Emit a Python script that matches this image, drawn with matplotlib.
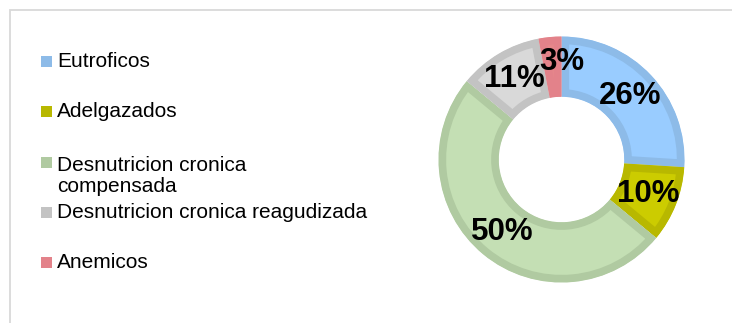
import matplotlib
matplotlib.use('Agg')
import matplotlib.pyplot as plt
from matplotlib.patches import Rectangle
import numpy as np

plt.rcParams['font.family'] = ['Liberation Sans', 'DejaVu Sans']

# Nutritional status breakdown (percent of children)
categories = [
    "Eutroficos",
    "Adelgazados",
    "Desnutricion cronica\ncompensada",
    "Desnutricion cronica reagudizada",
    "Anemicos",
]
values = [26, 10, 50, 11, 3]
fill_colors = ["#99CCFF", "#CCCC00", "#C4DFB4", "#D9D9D9", "#E6878A"]
edge_colors = ["#8DBBE8", "#B8B800", "#B0CAA1", "#C3C3C3", "#E3828A"]

W, H = 732, 323
fig = plt.figure(figsize=(W / 100, H / 100), dpi=100)


def px(x, y):
    """Pixel coords (origin top-left) -> figure fraction."""
    return x / W, 1 - y / H


# light frame around the chart area (runs off the right/bottom edges)
fx, fy = px(9.5, 400)
fig.add_artist(Rectangle((fx, fy), 2, (400 - 9.5) / H, transform=fig.transFigure,
                         fill=False, edgecolor="#D9D9D9", linewidth=1.3))

# donut, with a little margin so the ring is not clipped by the axes box
cx, cy, r = 561.5, 159.5, 123
pad = 1.06
x0, y0 = px(cx - r * pad, cy + r * pad)
ax = fig.add_axes([x0, y0, 2 * r * pad / W, 2 * r * pad / H])
wedges, _ = ax.pie(values, colors=fill_colors, startangle=90, counterclock=False,
                   radius=1.0, wedgeprops=dict(width=0.49, linewidth=0))
for w, ec in zip(wedges, edge_colors):
    # darker band along the inside of every segment
    w.set_edgecolor(ec)
    w.set_linewidth(11)
    w.set_clip_path(w)
    w.set_clip_on(True)
ax.set_xlim(-pad, pad)
ax.set_ylim(-pad, pad)
ax.set_aspect('equal')
ax.axis('off')

# percentage labels in the middle of each ring segment
start = 90.0
total = sum(values)
for i, v in enumerate(values):
    mid = np.deg2rad(start - v / total * 360 / 2)
    start -= v / total * 360
    rr = 0.76
    lx, ly = rr * np.cos(mid), rr * np.sin(mid)
    if v < 5:
        # tiny slice: keep its label off the neighbour's
        lx, ly = 0.0, 0.79
    ax.text(lx, ly, f"{v}%", ha='center', va='center', fontsize=22.5,
            fontweight='bold', color='black')

# legend drawn by hand to keep the spacing of the original layout
baselines = [67, 117, 168, 218, 268]
line_step = 24.5
for label, color, base in zip(categories, edge_colors, baselines):
    sx, sy = px(41, base)
    fig.add_artist(Rectangle((sx, sy), 11 / W, 11 / H, transform=fig.transFigure,
                             facecolor=color, edgecolor='none'))
    extra = label.count("\n") * line_step
    tx, ty = px(57, base + extra)
    fig.text(tx, ty, label, ha='left', va='baseline', fontsize=15,
             color='black', linespacing=1.15)

fig.savefig("out.png", dpi=100)
